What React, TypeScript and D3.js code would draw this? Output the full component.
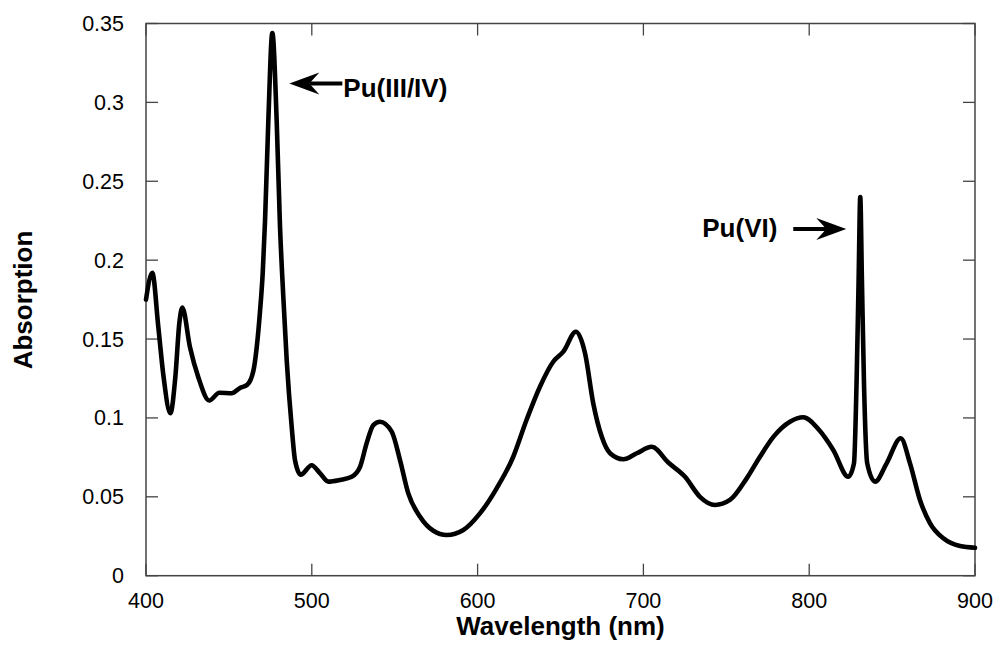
import React from "react";
import * as d3 from "d3";

const wavelengths = [
  400, 403.8, 407.4, 410.6, 414.7, 417.7, 420.1, 421.9, 426.5, 431.5, 438.2, 444.2, 451.7, 456.7, 461.1,
  464.8, 466.8, 468.8, 470.4, 471.8, 473.8, 476.2, 478.8, 480.8, 482.8, 484.9, 487.9, 489.9, 493.3, 499.9,
  504.9, 510, 517, 524.1, 529.1, 533.1, 537.1, 541.1, 548.2, 553.2, 558.2, 565.3, 573.3, 581.4, 591.4,
  601.4, 611.5, 621.5, 629.5, 637.6, 645.6, 651.7, 659.3, 664.8, 669.8, 674.9, 679.9, 687.9, 696, 705,
  715, 725.1, 734.1, 743.2, 752.2, 762.3, 770.3, 778.4, 788.4, 796.4, 806, 814.5, 823.6, 827, 828.6,
  829.8, 830.8, 831.8, 833, 835, 839.7, 846.7, 855.2, 860.8, 866.8, 872.9, 880.9, 891, 900,
];
const absorption = [
  0.175, 0.192, 0.158, 0.126, 0.103, 0.126, 0.16, 0.17, 0.145, 0.126, 0.111, 0.116, 0.1156, 0.119, 0.121,
  0.13, 0.145, 0.168, 0.192, 0.225, 0.289, 0.344, 0.289, 0.222, 0.177, 0.136, 0.094, 0.073, 0.064, 0.07,
  0.065, 0.0596, 0.0607, 0.0627, 0.069, 0.084, 0.0955, 0.0976, 0.0913, 0.0733, 0.0522, 0.0374, 0.0285, 0.0258, 0.029,
  0.0395, 0.0554, 0.0754, 0.0987, 0.1198, 0.1356, 0.142, 0.1546, 0.141, 0.109, 0.088, 0.0776, 0.0738, 0.0776, 0.0817,
  0.0717, 0.0627, 0.05, 0.0448, 0.048, 0.0617, 0.0754, 0.088, 0.0976, 0.1004, 0.0923, 0.0797, 0.0627, 0.0712, 0.124,
  0.187, 0.24, 0.187, 0.124, 0.0712, 0.0596, 0.0712, 0.0871, 0.0712, 0.048, 0.0332, 0.0237, 0.0188, 0.0177,
];
const xTicks = [400, 500, 600, 700, 800, 900];
const yTicks = [0, 0.05, 0.1, 0.15, 0.2, 0.25, 0.3, 0.35];
const yTickLabels = ["0", "0.05", "0.1", "0.15", "0.2", "0.25", "0.3", "0.35"];
const xTitle = "Wavelength (nm)";
const yTitle = "Absorption";
const annotations = [
  { label: "Pu(III/IV)", wl: 476.2, value: 0.35 },
  { label: "Pu(VI)", wl: 830.8, value: 0.24 },
];

const W = 995;
const H = 646;
const L = 146, R = 975, T = 23.5, B = 575.7;
const FONT = "'Liberation Sans', Arial, Helvetica, sans-serif";

export default function App() {
  const x = d3.scaleLinear().domain([400, 900]).range([L, R]);
  const y = d3.scaleLinear().domain([0, 0.35]).range([B, T]);
  const data = wavelengths.map((w, i) => [w, absorption[i]] as [number, number]);
  const line = d3
    .line<[number, number]>()
    .x((d) => x(d[0]))
    .y((d) => y(d[1]))
    .curve(d3.curveMonotoneX);
  const frame = "#444";
  const tk = 12;

  const arrowHead = (tx: number, ty: number, dir: number) => {
    const back = 30, notch = 20, half = 11;
    return `M${tx},${ty} L${tx - dir * back},${ty - half} L${tx - dir * notch},${ty} L${tx - dir * back},${ty + half} Z`;
  };

  const a1TipX = x(annotations[0].wl) + 17;
  const a1Y = 83.5;
  const a1TailX = a1TipX + 53;
  const a2TipX = x(annotations[1].wl) - 14;
  const a2Y = 229;
  const a2TailX = a2TipX - 53;

  return (
    <svg width={W} height={H} style={{ position: "absolute", left: 0, top: 0, background: "#fff" }}>
      <rect x={0} y={0} width={W} height={H} fill="#fff" />
      <rect x={L} y={T} width={R - L} height={B - T} fill="none" stroke={frame} strokeWidth={1.5} />
      {xTicks.map((t) => (
        <g key={"x" + t}>
          <line x1={x(t)} x2={x(t)} y1={B} y2={B - tk} stroke={frame} strokeWidth={1.3} />
          <line x1={x(t)} x2={x(t)} y1={T} y2={T + tk} stroke={frame} strokeWidth={1.3} />
          <text x={x(t)} y={608} textAnchor="middle" fontFamily={FONT} fontSize={21.5} fill="#000">
            {t}
          </text>
        </g>
      ))}
      {yTicks.map((t, i) => (
        <g key={"y" + t}>
          <line x1={L} x2={L + tk} y1={y(t)} y2={y(t)} stroke={frame} strokeWidth={1.3} />
          <line x1={R} x2={R - tk} y1={y(t)} y2={y(t)} stroke={frame} strokeWidth={1.3} />
          <text x={124} y={y(t) + 7.5} textAnchor="end" fontFamily={FONT} fontSize={21.5} fill="#000">
            {yTickLabels[i]}
          </text>
        </g>
      ))}
      <path d={line(data) || ""} fill="none" stroke="#000" strokeWidth={4.6} strokeLinejoin="round" strokeLinecap="round" />
      <text x={(L + R) / 2} y={635} textAnchor="middle" fontFamily={FONT} fontWeight="bold" fontSize={26} fill="#000">
        {xTitle}
      </text>
      <text
        transform={`translate(32,${300}) rotate(-90)`}
        textAnchor="middle"
        fontFamily={FONT}
        fontWeight="bold"
        fontSize={26}
        fill="#000"
      >
        {yTitle}
      </text>
      <line x1={a1TipX + 20} x2={a1TailX} y1={a1Y} y2={a1Y} stroke="#000" strokeWidth={4} />
      <path d={arrowHead(a1TipX, a1Y, -1)} fill="#000" />
      <text x={a1TailX + 1} y={96.5} fontFamily={FONT} fontWeight="bold" fontSize={26} fill="#000">
        {annotations[0].label}
      </text>
      <line x1={a2TailX} x2={a2TipX - 20} y1={a2Y} y2={a2Y} stroke="#000" strokeWidth={4} />
      <path d={arrowHead(a2TipX, a2Y, 1)} fill="#000" />
      <text x={a2TailX - 91} y={237} fontFamily={FONT} fontWeight="bold" fontSize={26} fill="#000">
        {annotations[1].label}
      </text>
    </svg>
  );
}
